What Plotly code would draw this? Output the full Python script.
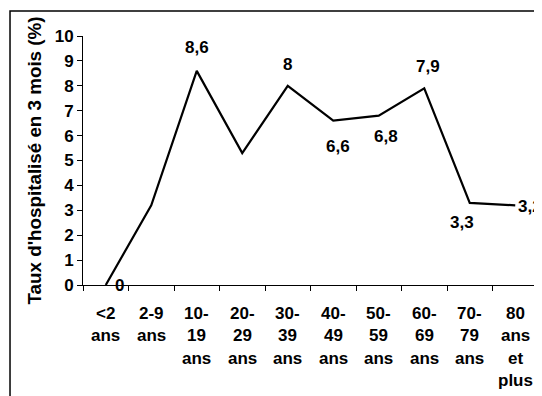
import plotly.graph_objects as go

categories = ["<2 ans", "2-9 ans", "10-19 ans", "20-29 ans", "30-39 ans",
              "40-49 ans", "50-59 ans", "60-69 ans", "70-79 ans", "80 ans et plus"]
tick_lines = [["<2", "ans"], ["2-9", "ans"], ["10-", "19", "ans"], ["20-", "29", "ans"],
              ["30-", "39", "ans"], ["40-", "49", "ans"], ["50-", "59", "ans"],
              ["60-", "69", "ans"], ["70-", "79", "ans"], ["80", "ans", "et", "plus"]]
values = [0, 3.2, 8.6, 5.3, 8, 6.6, 6.8, 7.9, 3.3, 3.2]
value_labels = ["0", "", "8,6", "", "8", "6,6", "6,8", "7,9", "3,3", "3,2"]
label_offsets = [(14, 0), (0, 0), (0, 23), (0, 0), (0, 21), (5, -26), (7, -21), (4, 22), (-8, -20), (15, -1)]
y_title = "Taux d'hospitalisé en 3 mois (%)"

FONT = "Liberation Sans, Arial, sans-serif"
fs = 17

fig = go.Figure()
fig.add_trace(go.Scatter(x=categories, y=values, mode="lines",
                         line=dict(color="black", width=2.2), cliponaxis=False,
                         hoverinfo="skip"))

ann = []
for c, v, lab, (dx, dy) in zip(categories, values, value_labels, label_offsets):
    if lab:
        ann.append(dict(x=c, y=v, xref="x", yref="y", text="<b>%s</b>" % lab,
                        showarrow=False, xshift=dx, yshift=dy,
                        font=dict(family=FONT, size=fs, color="black"),
                        xanchor="center", yanchor="middle"))
for c, lines in zip(categories, tick_lines):
    for i, ln in enumerate(lines):
        ann.append(dict(x=c, y=0, xref="x", yref="paper", text="<b>%s</b>" % ln,
                        showarrow=False, yshift=-(28 + i * 22.6),
                        font=dict(family=FONT, size=fs, color="black"),
                        xanchor="center", yanchor="middle"))
ann.append(dict(x=0, y=0.5, xref="paper", yref="paper", text="<b>%s</b>" % y_title,
                showarrow=False, textangle=-90, xshift=-49,
                font=dict(family=FONT, size=18.8, color="black"),
                xanchor="center", yanchor="middle"))

fig.update_layout(
    width=542, height=396,
    margin=dict(l=75, r=12, t=28, b=119),
    paper_bgcolor="white", plot_bgcolor="white",
    showlegend=False,
    annotations=ann,
    shapes=[dict(type="rect", xref="paper", yref="paper",
                 x0=-0.1604, x1=1.05, y0=-0.7, y1=1.1004,
                 line=dict(color="black", width=1.5), layer="below")],
    font=dict(family=FONT, size=fs, color="black"),
)
fig.update_xaxes(type="category", range=[-0.5, 9.5], showticklabels=False,
                 ticks="outside", tickson="boundaries", ticklen=5, tickcolor="black",
                 showline=True, linecolor="black", linewidth=1, showgrid=False,
                 zeroline=False)
fig.update_yaxes(range=[0, 10], dtick=1, ticks="outside", ticklen=5, tickcolor="black",
                 showline=True, linecolor="black", linewidth=1, showgrid=False,
                 zeroline=False, tickfont=dict(family=FONT, size=fs, color="black"),
                 tickprefix="<b>", ticksuffix="</b>")

fig.write_html("out.html")
